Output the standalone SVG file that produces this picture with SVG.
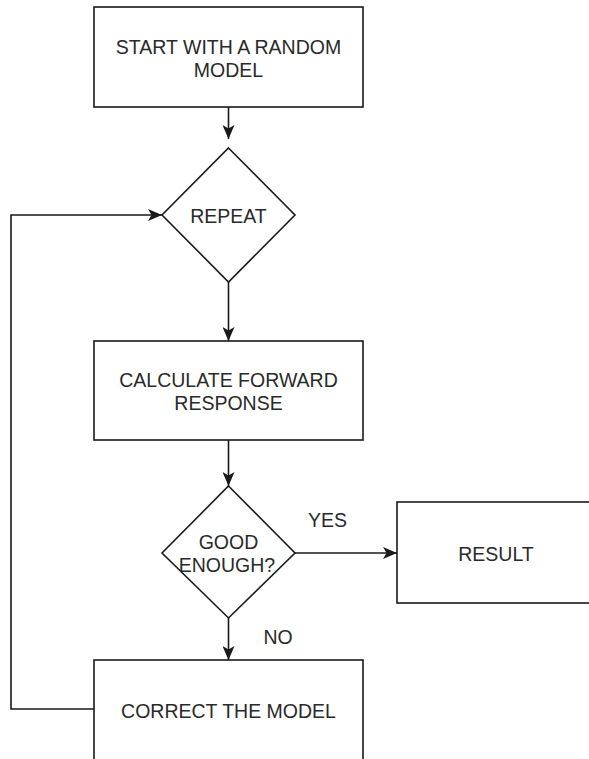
<svg xmlns="http://www.w3.org/2000/svg" width="589" height="759" viewBox="0 0 589 759">
  <style>
    .shape { fill: #ffffff; stroke: #1a1a1a; stroke-width: 1.6; }
    .edge { fill: none; stroke: #1a1a1a; stroke-width: 1.6; }
    .lbl { font-family: "Liberation Sans", Arial, sans-serif; font-size: 19.5px; fill: #2a2a2a; text-anchor: middle; }
  </style>
  <defs>
    <marker id="arrow" viewBox="0 0 14 12" refX="14" refY="6" markerWidth="14" markerHeight="12" markerUnits="userSpaceOnUse" orient="auto">
      <path d="M0,0 L14,6 L0,12 L3.5,6 Z" fill="#1a1a1a"/>
    </marker>
  </defs>
  <rect width="589" height="759" fill="#ffffff"/>

  <g id="connectors">
    <path class="edge" d="M228.5,107 L228.5,139" marker-end="url(#arrow)"/>
    <path class="edge" d="M228.5,282 L228.5,341" marker-end="url(#arrow)"/>
    <path class="edge" d="M228.5,440 L228.5,486" marker-end="url(#arrow)"/>
    <path class="edge" d="M295,553 L397,553" marker-end="url(#arrow)"/>
    <path class="edge" d="M228.5,618 L228.5,660" marker-end="url(#arrow)"/>
    <path class="edge" d="M94,709 L11,709 L11,215 L162,215" marker-end="url(#arrow)"/>
    <text class="lbl" x="327.5" y="527">YES</text>
    <text class="lbl" x="278" y="644">NO</text>
  </g>

  <g id="start">
    <rect class="shape" x="94" y="7" width="269" height="100"/>
    <text class="lbl" x="228.5" y="54">START WITH A RANDOM</text>
    <text class="lbl" x="228.5" y="77">MODEL</text>
  </g>

  <g id="repeat">
    <path class="shape" d="M228.5,148 L295,215 L228.5,282 L162,215 Z"/>
    <text class="lbl" x="228.5" y="223">REPEAT</text>
  </g>

  <g id="forward">
    <rect class="shape" x="94" y="341" width="269" height="99"/>
    <text class="lbl" x="228.5" y="387">CALCULATE FORWARD</text>
    <text class="lbl" x="228.5" y="410">RESPONSE</text>
  </g>

  <g id="good-enough">
    <path class="shape" d="M228.5,486 L295,553 L228.5,618 L162,553 Z"/>
    <text class="lbl" x="228.5" y="549">GOOD</text>
    <text class="lbl" x="227" y="572">ENOUGH?</text>
  </g>

  <g id="result">
    <rect class="shape" x="397" y="502" width="200" height="101"/>
    <text class="lbl" x="496" y="561">RESULT</text>
  </g>

  <g id="correct">
    <rect class="shape" x="94" y="660" width="269" height="101"/>
    <text class="lbl" x="228.5" y="718">CORRECT THE MODEL</text>
  </g>
</svg>
